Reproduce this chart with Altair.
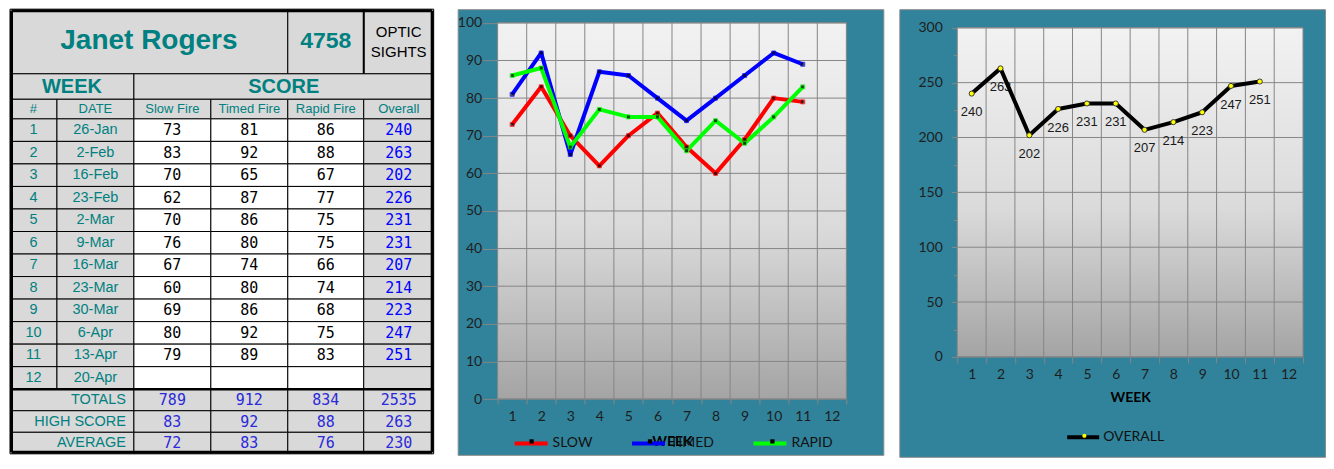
import altair as alt
import pandas as pd

# ---------------- data ----------------
WEEKS = list(range(1, 13))
DATES = ["26-Jan", "2-Feb", "16-Feb", "23-Feb", "2-Mar", "9-Mar", "16-Mar",
         "23-Mar", "30-Mar", "6-Apr", "13-Apr", "20-Apr"]
SLOW = [73, 83, 70, 62, 70, 76, 67, 60, 69, 80, 79]
TIMED = [81, 92, 65, 87, 86, 80, 74, 80, 86, 92, 89]
RAPID = [86, 88, 67, 77, 75, 75, 66, 74, 68, 75, 83]
OVERALL = [240, 263, 202, 226, 231, 231, 207, 214, 223, 247, 251]
TOTALS = [789, 912, 834, 2535]
HIGH_SCORE = [83, 92, 88, 263]
AVERAGE = [72, 83, 76, 230]
NAME = "Janet Rogers"
SHOOTER_ID = "4758"
CLASS_LINES = ["OPTIC", "SIGHTS"]
GROUP_HEADERS = ["WEEK", "SCORE"]
HEADERS = ["#", "DATE", "Slow Fire", "Timed Fire", "Rapid Fire", "Overall"]
FOOTER_LABELS = ["TOTALS", "HIGH SCORE", "AVERAGE"]
SERIES = ["SLOW", "TIMED", "RAPID"]
OVERALL_SERIES = ["OVERALL"]
Y1_TICKS = list(range(0, 101, 10))
Y2_TICKS = list(range(0, 301, 50))
Y2_ALL_TICKS = list(range(0, 301, 25))
X_TITLE = "WEEK"

# ---------------- styles / layout ----------------
S = 448 / 457                      # vertical fit factor
TEAL = "#31839b"
CELL_GRAY = "#d9d9d9"
TXT_TEAL = "#008080"
GRID = "#868686"
AX_TXT = "#1e1e1e"
SERIES_COLORS = ["#ff0000", "#0000ff", "#00ff00"]
NARROW = "Liberation Sans Narrow, Arial Narrow, Liberation Sans"
SANS = "Liberation Sans, Arial"
MONO = "DejaVu Sans Mono"
AXFONT = "Lato"
SQUARE_PATH = "M-0.13,-0.13H0.13V0.13H-0.13Z"
DOT_PATH = "M0.13,0A0.13,0.13 0 1,1 -0.13,0A0.13,0.13 0 1,1 0.13,0Z"
ZW = "\u200b"   # zero-width marker so the marker legends stay separate legends

# table geometry (reference pixel units)
TW = 432
TH = round(454 * S)
E = [0, 47, 124, 201, 278, 354, 424]
TITLE_H, BAND_Y, HEAD_Y, DATA_Y, ROW_H, FOOT_Y, FOOT_H = 66, 66, 92, 112, 23, 388, 22

XS = alt.Scale(domain=[0, TW], range=[0, TW], nice=False, zero=False)
YS = alt.Scale(domain=[0, 454], range=[0, TH], nice=False, zero=False)

# ---------------- table ----------------
cells = []
def cell(x0, x1, y0, y1, fill):
    cells.append(dict(x0=x0, x1=x1, y0=y0, y1=y1, fill=fill))

cell(0, 278, 0, TITLE_H, CELL_GRAY)
cell(278, 354, 0, TITLE_H, CELL_GRAY)
cell(354, 424, 0, TITLE_H, CELL_GRAY)
cell(0, 124, BAND_Y, HEAD_Y, CELL_GRAY)
cell(124, 424, BAND_Y, HEAD_Y, CELL_GRAY)
for c in range(6):
    cell(E[c], E[c + 1], HEAD_Y, DATA_Y, CELL_GRAY)
for i in range(len(WEEKS)):
    y0 = DATA_Y + ROW_H * i
    for c in range(6):
        cell(E[c], E[c + 1], y0, y0 + ROW_H, "white" if 2 <= c <= 4 else CELL_GRAY)
for j in range(3):
    y0 = FOOT_Y + FOOT_H * j
    cell(0, 124, y0, y0 + FOOT_H, CELL_GRAY)
    for c in range(2, 6):
        cell(E[c], E[c + 1], y0, y0 + FOOT_H, CELL_GRAY)
cells_df = pd.DataFrame(cells)

thick_df = pd.DataFrame([
    dict(x0=1.5, x1=422.5, y0=1.5, y1=1.5, w=3),
    dict(x0=1.5, x1=422.5, y0=452.5, y1=452.5, w=3),
    dict(x0=1.5, x1=1.5, y0=1.5, y1=452.5, w=3),
    dict(x0=422.5, x1=422.5, y0=1.5, y1=452.5, w=3),
    dict(x0=0, x1=424, y0=FOOT_Y, y1=FOOT_Y, w=2.5),
    dict(x0=354, x1=354, y0=0, y1=TITLE_H, w=2),
])

def cc(c):
    return (E[c] + E[c + 1]) / 2

texts = []
def t(group, x, y, text, color, size):
    texts.append(dict(g=group, x=x, y=y, text=str(text), color=color, size=size))

t("title", 139, 33, NAME, TXT_TEAL, 28)
t("id", 316, 33, SHOOTER_ID, TXT_TEAL, 23)
t("cls", 389, 23.5, CLASS_LINES[0], "black", 15)
t("cls", 389, 44, CLASS_LINES[1], "black", 15)
t("band", 62, 79, GROUP_HEADERS[0], TXT_TEAL, 20)
t("band", 274, 79, GROUP_HEADERS[1], TXT_TEAL, 20)
for c, h in enumerate(HEADERS):
    t("narrow", cc(c), 102, h, TXT_TEAL, 13)
for i, (w, d) in enumerate(zip(WEEKS, DATES)):
    y = DATA_Y + ROW_H * i + ROW_H / 2
    t("narrow", cc(0), y, w, TXT_TEAL, 14.5)
    t("narrow", cc(1), y, d, TXT_TEAL, 14.5)
for i in range(len(SLOW)):
    y = DATA_Y + ROW_H * i + ROW_H / 2
    t("mono", cc(2), y, SLOW[i], "black", 15)
    t("mono", cc(3), y, TIMED[i], "black", 15)
    t("mono", cc(4), y, RAPID[i], "black", 15)
    t("mono", cc(5), y, OVERALL[i], "#0000ff", 15)
for j, (lab, vals) in enumerate(zip(FOOTER_LABELS, [TOTALS, HIGH_SCORE, AVERAGE])):
    y = FOOT_Y + FOOT_H * j + FOOT_H / 2
    t("right", 116, y, lab, TXT_TEAL, 14.5)
    for k, v in enumerate(vals):
        t("mono", cc(2 + k), y, v, "#2a2ad8", 15)
texts_df = pd.DataFrame(texts)

def text_layer(group, font, weight="normal", align="center"):
    return alt.Chart(texts_df).transform_filter(alt.datum.g == group).mark_text(
        font=font, fontWeight=weight, align=align, baseline="middle"
    ).encode(
        x=alt.X("x:Q", scale=XS, axis=None),
        y=alt.Y("y:Q", scale=YS, axis=None),
        text="text:N",
        color=alt.Color("color:N", scale=None),
        size=alt.Size("size:Q", scale=None),
    )

cell_layer = alt.Chart(cells_df).mark_rect(stroke="black", strokeWidth=1).encode(
    x=alt.X("x0:Q", scale=XS, axis=None), x2="x1:Q",
    y=alt.Y("y0:Q", scale=YS, axis=None), y2="y1:Q",
    fill=alt.Fill("fill:N", scale=None),
)
thick_layer = alt.Chart(thick_df).mark_rule(color="black").encode(
    x=alt.X("x0:Q", scale=XS, axis=None), x2="x1:Q",
    y=alt.Y("y0:Q", scale=YS, axis=None), y2="y1:Q",
    strokeWidth=alt.StrokeWidth("w:Q", scale=None),
)

table = alt.layer(
    cell_layer, thick_layer,
    text_layer("title", SANS, "bold"),
    text_layer("id", NARROW, "bold"),
    text_layer("cls", SANS),
    text_layer("band", SANS, "bold"),
    text_layer("narrow", NARROW),
    text_layer("mono", MONO),
    text_layer("right", NARROW, align="right"),
).properties(width=TW, height=TH, view=alt.ViewBackground(strokeWidth=0))

# ---------------- shared chart pieces ----------------
GRAD = alt.LinearGradient(
    gradient="linear",
    stops=[alt.GradientStop(color="#f2f2f2", offset=0),
           alt.GradientStop(color="#dadada", offset=0.55),
           alt.GradientStop(color="#a4a4a4", offset=1)],
    x1=0, x2=0, y1=0, y2=1,
)
FRAME = alt.ViewBackground(fill=TEAL, stroke="#8c8c8c", strokeWidth=1)
one_row = pd.DataFrame({"k": [0]})
week_bounds = pd.DataFrame({"week": WEEKS[1:]})


def legend_props(x, y, size, pad, **kw):
    base = dict(title=None, orient="none", legendX=x, legendY=y, direction="horizontal",
                symbolSize=size, padding=0, labelFont=AXFONT, labelFontSize=14,
                labelColor="#111111", labelOffset=3, columnPadding=pad)
    base.update(kw)
    return alt.Legend(**base)

# ---------------- chart 1: slow / timed / rapid ----------------
W1, H1 = 426, round(455 * S)
L1, R1 = 40, 389
T1, B1 = 14 * S, 398 * S
LEG1_X, LEG1_Y = 55, 441 * S - 16.5

X1S = alt.Scale(type="band", domain=WEEKS, range=[L1, R1], paddingInner=0, paddingOuter=0)
Y1S = alt.Scale(domain=[0, 100], range=[B1, T1], nice=False, zero=False)
X1AX = alt.Axis(orient="bottom", offset=-(H1 - B1), title=X_TITLE, titleFont=AXFONT,
                titleFontSize=14, titleFontWeight="bold", titleColor="black",
                titleY=441 * S - B1, titleBaseline="middle",
                labelFont=AXFONT, labelFontSize=14, labelColor=AX_TXT, labelAngle=0,
                labelBaseline="middle", labelPadding=416 * S - B1 - 5, tickSize=5,
                tickColor=GRID, tickBand="extent", domain=False, grid=False)
Y1AX = alt.Axis(orient="left", offset=-L1, values=Y1_TICKS, title=None,
                labelFont=AXFONT, labelFontSize=14, labelColor=AX_TXT, labelPadding=1,
                tickSize=15, tickColor=GRID, domain=False, grid=False)

long1 = pd.DataFrame(
    [dict(week=w, series=s, marker=s + ZW, value=v)
     for s, vals in zip(SERIES, [SLOW, TIMED, RAPID])
     for w, v in zip(WEEKS, vals)]
)
y1ticks_df = pd.DataFrame({"value": Y1_TICKS})
X1 = alt.X("week:O", scale=X1S, axis=X1AX, bandPosition=0.5)
Y1 = alt.Y("value:Q", scale=Y1S, axis=Y1AX)

bg1 = alt.Chart(one_row).mark_rect(fill=GRAD, stroke=GRID, strokeWidth=1).encode(
    x=alt.value(L1), x2=alt.value(R1), y=alt.value(T1), y2=alt.value(B1))
hgrid1 = alt.Chart(y1ticks_df).mark_rule(color=GRID, strokeWidth=1).encode(
    y=Y1, x=alt.value(L1), x2=alt.value(R1))
vgrid1 = alt.Chart(week_bounds).mark_rule(color=GRID, strokeWidth=1).encode(
    x=alt.X("week:O", scale=X1S, axis=X1AX, bandPosition=0), y=alt.value(T1), y2=alt.value(B1))
lines1 = alt.Chart(long1).mark_line(strokeWidth=4, strokeJoin="round").encode(
    x=X1, y=Y1,
    color=alt.Color("series:N", scale=alt.Scale(domain=SERIES, range=SERIES_COLORS),
                    legend=legend_props(LEG1_X, LEG1_Y, 33 * 33, 31.5, symbolType="stroke",
                                        symbolStrokeWidth=4)),
)
pts1 = alt.Chart(long1).mark_point(shape="square", filled=True, size=16, strokeWidth=1).encode(
    x=X1, y=Y1,
    fill=alt.value("black"),
    stroke=alt.Stroke("series:N", scale=alt.Scale(domain=SERIES, range=SERIES_COLORS), legend=None),
)
legmark1 = alt.Chart(long1).mark_point(filled=True, color="black", opacity=0).encode(
    x=X1, y=Y1,
    shape=alt.Shape("marker:N", scale=alt.Scale(domain=[s + ZW for s in SERIES],
                                                range=[SQUARE_PATH] * 3),
                    legend=legend_props(LEG1_X + 2.5, LEG1_Y, 33 * 33, 42.5, symbolOpacity=1,
                                        symbolFillColor="black", symbolStrokeWidth=0,
                                        labelOpacity=0)),
)
chart1 = alt.layer(bg1, hgrid1, vgrid1, lines1, pts1, legmark1).properties(
    width=W1, height=H1, view=FRAME)

# ---------------- chart 2: overall ----------------
W2, H2 = 426, round(457 * S)
L2, R2 = 58, 404
T2, B2 = 19 * S, 355 * S
LEG2_X, LEG2_Y = 166, 435 * S - 16

X2S = alt.Scale(type="band", domain=WEEKS, range=[L2, R2], paddingInner=0, paddingOuter=0)
Y2S = alt.Scale(domain=[0, 300], range=[B2, T2], nice=False, zero=False)
X2AX = alt.Axis(orient="bottom", offset=-(H2 - B2), title=X_TITLE, titleFont=AXFONT,
                titleFontSize=14, titleFontWeight="bold", titleColor="black",
                titleY=396.7 * S - B2, titleBaseline="middle",
                labelFont=AXFONT, labelFontSize=14, labelColor=AX_TXT, labelAngle=0,
                labelBaseline="middle", labelPadding=373.3 * S - B2 - 6, tickSize=6,
                tickColor=GRID, tickBand="extent", domain=False, grid=False)
Y2AX = alt.Axis(orient="left", offset=-L2, values=Y2_ALL_TICKS, title=None,
                labelExpr="datum.value % 50 === 0 ? datum.label : ''",
                labelFont=AXFONT, labelFontSize=14, labelColor=AX_TXT, labelPadding=9,
                tickSize={"condition": {"test": "datum.value % 50 === 0", "value": 6}, "value": 4},
                tickColor=GRID, domain=False, grid=False)

long2 = pd.DataFrame({"week": WEEKS[:len(OVERALL)], "value": OVERALL,
                      "series": OVERALL_SERIES * len(OVERALL),
                      "marker": [OVERALL_SERIES[0] + ZW] * len(OVERALL)})
y2ticks_df = pd.DataFrame({"value": Y2_TICKS})
X2 = alt.X("week:O", scale=X2S, axis=X2AX, bandPosition=0.5)
Y2 = alt.Y("value:Q", scale=Y2S, axis=Y2AX)

bg2 = alt.Chart(one_row).mark_rect(fill=GRAD, stroke=GRID, strokeWidth=1).encode(
    x=alt.value(L2), x2=alt.value(R2), y=alt.value(T2), y2=alt.value(B2))
hgrid2 = alt.Chart(y2ticks_df).mark_rule(color=GRID, strokeWidth=1).encode(
    y=Y2, x=alt.value(L2), x2=alt.value(R2))
vgrid2 = alt.Chart(week_bounds).mark_rule(color=GRID, strokeWidth=1).encode(
    x=alt.X("week:O", scale=X2S, axis=X2AX, bandPosition=0), y=alt.value(T2), y2=alt.value(B2))
labels2 = alt.Chart(long2).mark_text(dy=19 * S, font=NARROW, fontSize=13, color="#1a1a1a",
                                     baseline="middle").encode(
    x=X2, y=Y2, text="value:Q")
line2 = alt.Chart(long2).mark_line(strokeWidth=4, strokeJoin="round").encode(
    x=X2, y=Y2,
    color=alt.Color("series:N", scale=alt.Scale(domain=OVERALL_SERIES, range=["black"]),
                    legend=legend_props(LEG2_X, LEG2_Y, 32 * 32, 46, symbolType="stroke",
                                        symbolStrokeWidth=4, labelOffset=2)),
)
pts2 = alt.Chart(long2).mark_point(shape="circle", filled=True, size=26, strokeWidth=1,
                                   fill="#ffff00", stroke="#3a3a3a", fillOpacity=1).encode(
    x=X2, y=Y2)
legmark2 = alt.Chart(long2).mark_point(filled=True, color="#ffff00", opacity=0).encode(
    x=X2, y=Y2,
    shape=alt.Shape("marker:N", scale=alt.Scale(domain=[OVERALL_SERIES[0] + ZW], range=[DOT_PATH]),
                    legend=legend_props(LEG2_X + 2.7, LEG2_Y, 32 * 32, 46, symbolOpacity=1,
                                        symbolFillColor="#ffff00", symbolStrokeColor="#3a3a3a",
                                        symbolStrokeWidth=1, labelOffset=2, labelOpacity=0)),
)
chart2 = alt.layer(bg2, hgrid2, vgrid2, labels2, line2, pts2, legmark2).properties(
    width=W2, height=H2, view=FRAME)

chart = alt.hconcat(table, chart1, chart2, spacing=16, bounds="flush").resolve_scale(
    color="independent", stroke="independent", shape="independent"
).resolve_legend(
    color="independent", stroke="independent", shape="independent"
).properties(padding=0).configure(background="white").configure_view(strokeWidth=0)

chart.save("out.html", embed_options={"renderer": "svg", "actions": False})
